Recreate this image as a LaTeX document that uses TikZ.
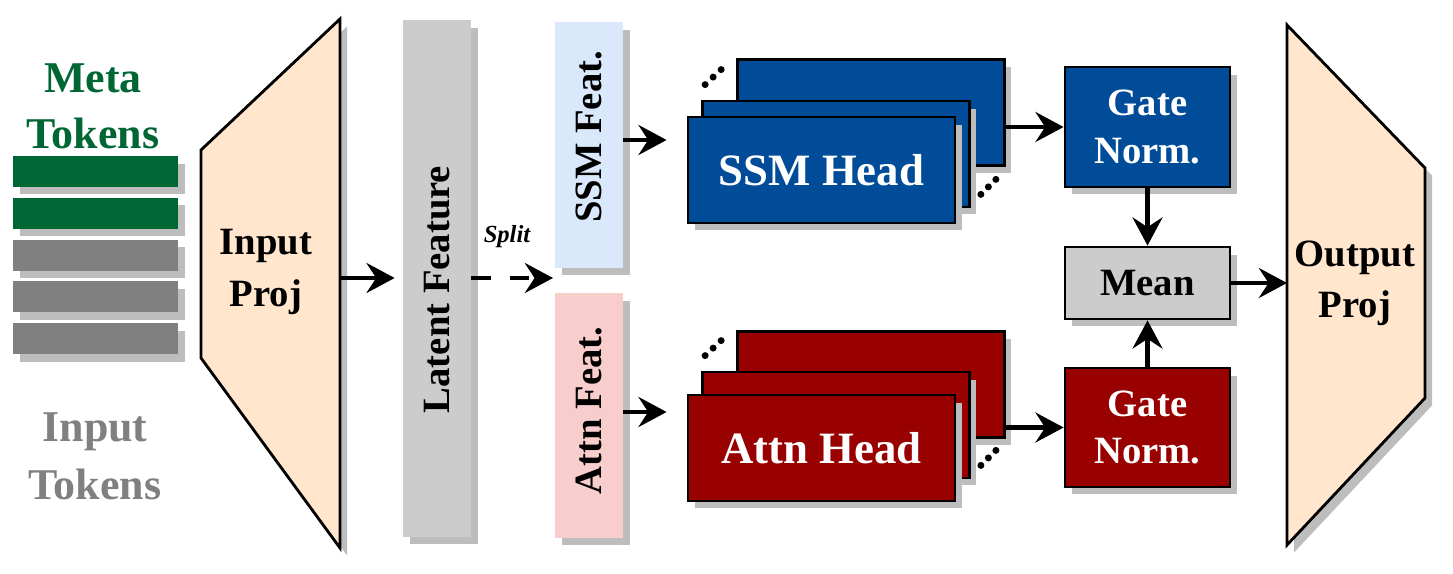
\documentclass[tikz,border=0pt]{standalone}
\usepackage{fontspec}
\setmainfont{Liberation Serif}
\usepackage{tikz}
\usetikzlibrary{calc, arrows.meta, shadows}
\definecolor{peach}{HTML}{FFE6CC}
\definecolor{ssmblue}{HTML}{004C99}
\definecolor{attnred}{HTML}{990000}
\definecolor{metagreen}{HTML}{006633}
\definecolor{tokengray}{HTML}{808080}
\definecolor{latentgray}{HTML}{CCCCCC}
\definecolor{ssmlight}{HTML}{DAE8FC}
\definecolor{attnlight}{HTML}{F8CECC}
\definecolor{shadowgray}{HTML}{BDBDBD}
\tikzstyle{castshadow} = [drop shadow={shadow xshift=0.14cm, shadow yshift=-0.15cm, fill=shadowgray, opacity=1}]
\tikzstyle{token} = [rectangle, castshadow, minimum width=3.3cm, minimum height=0.62cm, inner sep=0pt]
\tikzstyle{bar} = [rectangle, castshadow, minimum width=1.36cm, inner sep=0pt]
\tikzstyle{bigtext} = [font=\fontsize{22}{28}\selectfont\bfseries, align=center]
\tikzstyle{vtext} = [bigtext, rotate=90]
\tikzstyle{head} = [rectangle, draw=black, line width=1.6pt, castshadow, minimum width=5.34cm, minimum height=2.12cm, text=white, font=\fontsize{25.5}{30}\selectfont\bfseries]
\tikzstyle{gate} = [rectangle, draw=black, line width=1.6pt, castshadow, minimum width=3.3cm, minimum height=2.4cm, text=white, bigtext, font=\fontsize{22}{27}\selectfont\bfseries]
\tikzstyle{arrow} = [line width=2.7pt, -{Stealth[length=16pt, width=17pt, inset=5.5pt]}]

\begin{document}
\begin{tikzpicture}[x=0.02cm, y=-0.02cm]

        \useasboundingbox (0,0) rectangle (1453,574);

        % tokens
        \node (metalbl) [bigtext, text=metagreen, font=\fontsize{25}{32}\selectfont\bfseries] at (93,106) {Meta\\Tokens};
        \foreach \i/\c in {0/metagreen, 1/metagreen, 2/tokengray, 3/tokengray, 4/tokengray}
            \node (tok\i) [token, fill=\c] at (95.5,171.5+41.8*\i) {};
        \node (inputlbl) [bigtext, text=tokengray, font=\fontsize{25}{33}\selectfont\bfseries] at (95,456) {Input\\Tokens};

        % input projection
        \draw [castshadow, fill=peach, line width=1.6pt] (201,150) -- (340,19) -- (340,548) -- (201,358) -- cycle;
        \coordinate (inproj) at (340,278);
        \node (inprojlbl) [bigtext, font=\fontsize{22}{30}\selectfont\bfseries] at (266,272) {Input\\Proj};

        % latent and split features
        \node (latent) [bar, fill=latentgray, minimum height=10.34cm] at (437,278.5) {};
        \node (latentlbl) [vtext] at ([yshift=-0.22cm]latent) {Latent Feature};
        \node (ssmfeat) [bar, fill=ssmlight, minimum height=4.92cm] at (589,145) {};
        \node (ssmfeatlbl) [vtext] at ([yshift=0.16cm]ssmfeat) {SSM Feat.};
        \node (attnfeat) [bar, fill=attnlight, minimum height=4.9cm] at (589,415.5) {};
        \node (attnfeatlbl) [vtext] at ([yshift=0.1cm]attnfeat) {Attn Feat.};

        \draw [arrow] (inproj) -- ([xshift=-0.16cm]latent.west |- inproj);
        \coordinate (splitend) at (553,278);
        \draw [arrow, dash pattern=on 11pt off 11pt] (latent.east |- splitend) -- (splitend);
        \node (splitlbl) [font=\fontsize{14}{16}\selectfont\bfseries\itshape] at (507,237) {Split};

        % heads
        \node (ssmback) [head, fill=ssmblue] at (871,112.5) {};
        \node (ssmmid)  [head, fill=ssmblue] at (836,154) {};
        \node (ssmhead) [head, fill=ssmblue] at (821.5,170) {SSM Head};
        \node (attnback) [head, fill=attnred] at (871,384.5) {};
        \node (attnmid)  [head, fill=attnred] at (836,425) {};
        \node (attnhead) [head, fill=attnred] at (821.5,448) {Attn Head};

        \foreach \i in {0,1,2} {
            \fill ($(ssmmid.north west)+(4+8*\i,-15-7.5*\i)$) circle (3.5);
            \fill ($(ssmmid.south east)+(10+7.5*\i,-14-7.5*\i)$) circle (3.5);
            \fill ($(attnmid.north west)+(4+8*\i,-15-7.5*\i)$) circle (3.5);
            \fill ($(attnmid.south east)+(10+7.5*\i,-14-7.5*\i)$) circle (3.5);
        }

        \draw [arrow] ([yshift=0.1cm]ssmfeat.east) -- ([xshift=-0.4cm,yshift=0.1cm]ssmhead.west |- ssmfeat.east);
        \draw [arrow] ([yshift=0.07cm]attnfeat.east) -- ([xshift=-0.4cm,yshift=0.07cm]attnhead.west |- attnfeat.east);

        % gates and mean
        \node (ssmgate) [gate, fill=ssmblue] at (1147.5,127) {Gate\\Norm.};
        \node (mean) [gate, fill=latentgray, text=black, minimum height=1.44cm] at (1147.5,283) {Mean};
        \node (attngate) [gate, fill=attnred, minimum height=2.38cm] at (1147.5,427.5) {Gate\\Norm.};

        \draw [arrow] (ssmback.east |- ssmgate.west) -- (ssmgate.west);
        \draw [arrow] (attnback.east |- attngate.west) -- (attngate.west);
        \draw [arrow] (ssmgate.south) -- (mean.north);
        \draw [arrow] (attngate.north) -- (mean.south);

        % output projection
        \draw [castshadow, fill=peach, line width=1.6pt] (1287,25) -- (1425,168) -- (1425,398) -- (1287,545) -- cycle;
        \coordinate (outproj) at (1287,283);
        \node (outprojlbl) [bigtext, font=\fontsize{22}{29}\selectfont\bfseries] at (1355,283) {Output\\Proj};
        \draw [arrow] (mean.east) -- (outproj);

    \end{tikzpicture}
\end{document}
